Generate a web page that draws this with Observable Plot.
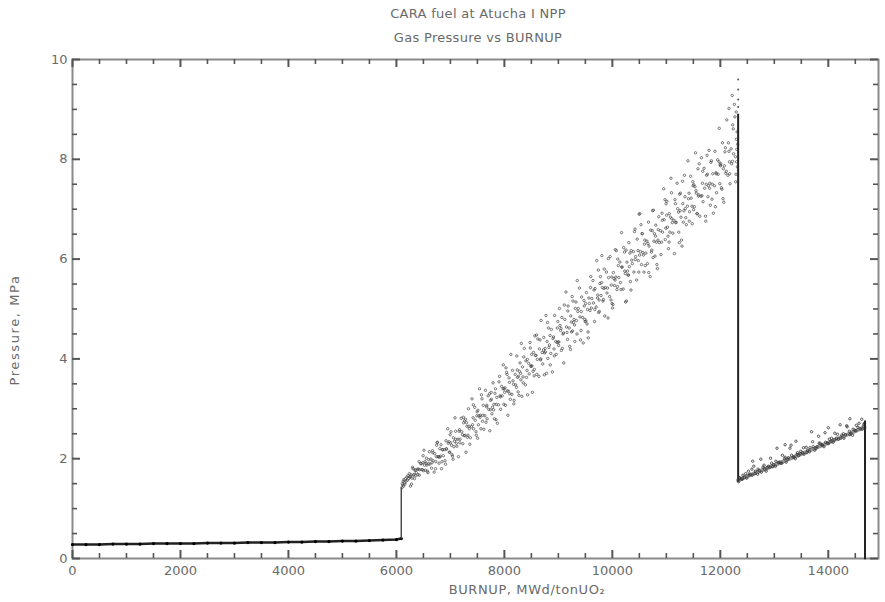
<!DOCTYPE html>
<html><head><meta charset="utf-8">
<script src="https://cdn.jsdelivr.net/npm/d3@7"></script>
<script src="https://cdn.jsdelivr.net/npm/@observablehq/plot@0.6"></script>
<style>
body{margin:0;background:#fff;}
#wrap{position:relative;width:885px;height:602px;font-family:"DejaVu Sans",sans-serif;color:#6a6a6a;}
.t{position:absolute;left:0;width:956px;text-align:center;font-size:13px;line-height:16px;letter-spacing:0.3px;}
#ylab{position:absolute;left:14px;top:330px;transform:translate(-50%,-50%) rotate(-90deg);font-size:13px;white-space:nowrap;letter-spacing:1.6px;}
#xlab{position:absolute;left:527px;top:582px;transform:translateX(-50%);font-size:13px;white-space:nowrap;letter-spacing:0.6px;}
#chart{position:absolute;left:0;top:0;}
</style></head><body>
<div id="wrap">
<div id="chart"></div>
<div class="t" style="top:6px">CARA fuel at Atucha I NPP</div>
<div class="t" style="top:30px">Gas Pressure vs BURNUP</div>
<div id="ylab">Pressure, MPa</div>
<div id="xlab">BURNUP, MWd/tonUO₂</div>
</div>
<script>
const xTicks = [0,2000,4000,6000,8000,10000,12000,14000];
const yTicks = [0,2,4,6,8,10];
const xMinor = [500,1000,1500,2500,3000,3500,4500,5000,5500,6500,7000,7500,8500,9000,9500,10500,11000,11500,12500,13000,13500,14500];
const yMinor = [0.5,1,1.5,2.5,3,3.5,4.5,5,5.5,6.5,7,7.5,8.5,9,9.5];

const baseBurnup = [0,250,500,750,1000,1250,1500,1750,2000,2250,2500,2750,3000,3250,3500,3750,4000,4250,4500,4750,5000,5250,5500,5750,6000,6090];
const basePressure = [0.28,0.28,0.28,0.29,0.29,0.29,0.30,0.30,0.30,0.30,0.31,0.31,0.31,0.32,0.32,0.32,0.33,0.33,0.34,0.34,0.35,0.35,0.36,0.37,0.38,0.40];

const jump1 = [[6090,0.40],[6090,1.42]];

const riseCloud = [
[6105,1.42],[6110,1.50],[6118,1.47],[6125,1.55],[6132,1.45],[6140,1.58],[6150,1.52],[6160,1.49],[6170,1.60],[6180,1.55],[6192,1.63],[6205,1.57],[6215,1.66],[6228,1.60],[6240,1.70],[6248,1.63],
[6260,1.45],[6450,1.90],[6335,1.60],[6400,1.68],[6290,1.61],[6480,1.78],[6370,1.72],[6315,1.67],[6430,1.78],[6270,1.68],[6390,1.79],[6350,1.78],[6460,1.90],[6305,1.80],[6420,1.94],[6495,2.06],
[6700,1.73],[6585,1.72],[6650,1.81],[6540,1.77],[6730,1.94],[6620,1.89],[6565,1.87],[6680,1.96],[6520,1.87],[6640,1.99],[6600,1.98],[6710,2.10],[6555,2.01],[6670,2.16],[6745,2.27],[6510,2.17],
[6835,1.80],[6900,1.96],[6790,1.91],[6980,2.13],[6870,2.06],[6815,2.05],[6930,2.19],[6770,2.04],[6890,2.18],[6850,2.18],[6960,2.31],[6805,2.20],[6920,2.36],[6995,2.48],[6760,2.33],[6950,2.60],
[7150,2.04],[7040,2.05],[7230,2.30],[7120,2.25],[7065,2.24],[7180,2.39],[7020,2.27],[7140,2.39],[7100,2.39],[7210,2.54],[7055,2.42],[7170,2.58],[7245,2.72],[7010,2.54],[7200,2.81],[7085,2.82],
[7290,2.13],[7480,2.47],[7370,2.42],[7315,2.43],[7430,2.60],[7270,2.47],[7390,2.64],[7350,2.60],[7460,2.77],[7305,2.65],[7420,2.82],[7495,2.94],[7260,2.76],[7450,3.03],[7335,3.00],[7400,3.20],
[7730,2.56],[7620,2.59],[7565,2.60],[7680,2.80],[7520,2.68],[7640,2.86],[7600,2.87],[7710,2.99],[7555,2.87],[7670,3.04],[7745,3.17],[7510,2.97],[7700,3.26],[7585,3.20],[7650,3.37],[7540,3.40],
[7870,2.71],[7815,2.80],[7930,2.99],[7770,2.90],[7890,3.08],[7850,3.09],[7960,3.26],[7805,3.09],[7920,3.26],[7995,3.40],[7760,3.19],[7950,3.45],[7835,3.40],[7900,3.54],[7790,3.52],[7980,3.88],
[8065,2.87],[8180,3.17],[8020,3.07],[8140,3.29],[8100,3.30],[8210,3.48],[8055,3.36],[8170,3.49],[8245,3.63],[8010,3.42],[8200,3.69],[8085,3.62],[8150,3.77],[8040,3.73],[8230,4.06],[8120,4.09],
[8430,3.28],[8270,3.27],[8390,3.48],[8350,3.52],[8460,3.70],[8305,3.58],[8420,3.77],[8495,3.85],[8260,3.65],[8450,3.91],[8335,3.84],[8400,3.96],[8290,3.92],[8480,4.22],[8370,4.21],[8315,4.31],
[8520,3.33],[8640,3.65],[8600,3.69],[8710,3.90],[8555,3.79],[8670,3.98],[8745,4.12],[8510,3.86],[8700,4.13],[8585,4.07],[8650,4.20],[8540,4.13],[8730,4.43],[8620,4.40],[8565,4.46],[8680,4.77],
[8890,3.74],[8850,3.88],[8960,4.09],[8805,4.01],[8920,4.20],[8995,4.34],[8760,4.14],[8950,4.35],[8835,4.28],[8900,4.41],[8790,4.35],[8980,4.62],[8870,4.59],[8815,4.62],[8930,4.87],[8770,4.87],
[9100,3.92],[9210,4.25],[9055,4.17],[9170,4.39],[9245,4.54],[9010,4.34],[9200,4.62],[9085,4.50],[9150,4.64],[9040,4.57],[9230,4.86],[9120,4.79],[9065,4.83],[9180,5.06],[9020,5.01],[9140,5.34],
[9460,4.32],[9305,4.35],[9420,4.57],[9495,4.75],[9260,4.56],[9450,4.83],[9335,4.77],[9400,4.84],[9290,4.79],[9480,5.06],[9370,5.01],[9315,5.01],[9430,5.24],[9270,5.16],[9390,5.42],[9350,5.57],
[9555,4.42],[9670,4.75],[9745,4.93],[9510,4.76],[9700,5.04],[9585,4.97],[9650,5.12],[9540,4.99],[9730,5.28],[9620,5.21],[9565,5.22],[9680,5.41],[9520,5.33],[9640,5.57],[9600,5.65],[9710,5.97],
[9920,4.82],[9995,5.11],[9760,4.95],[9950,5.25],[9835,5.19],[9900,5.32],[9790,5.27],[9980,5.48],[9870,5.43],[9815,5.43],[9930,5.63],[9770,5.51],[9890,5.74],[9850,5.80],[9960,6.05],[9805,6.07],
[10245,5.14],[10010,5.09],[10200,5.40],[10085,5.39],[10150,5.53],[10040,5.47],[10230,5.76],[10120,5.63],[10065,5.64],[10180,5.84],[10020,5.73],[10140,5.94],[10100,6.00],[10210,6.23],[10055,6.19],[10170,6.53],
[10260,5.16],[10450,5.58],[10335,5.55],[10400,5.74],[10290,5.68],[10480,5.97],[10370,5.91],[10315,5.85],[10430,6.05],[10270,5.94],[10390,6.15],[10350,6.17],[10460,6.40],[10305,6.33],[10420,6.60],[10495,6.90],
[10700,5.65],[10585,5.74],[10650,5.91],[10540,5.89],[10730,6.18],[10620,6.12],[10565,6.13],[10680,6.26],[10520,6.15],[10640,6.36],[10600,6.38],[10710,6.58],[10555,6.51],[10670,6.74],[10745,6.97],[10510,6.91],
[10835,5.81],[10900,6.09],[10790,6.06],[10980,6.39],[10870,6.33],[10815,6.34],[10930,6.54],[10770,6.36],[10890,6.57],[10850,6.59],[10960,6.79],[10805,6.68],[10920,6.92],[10995,7.11],[10760,6.98],[10950,7.41],
[11150,6.11],[11040,6.21],[11230,6.54],[11120,6.52],[11065,6.54],[11180,6.74],[11020,6.64],[11140,6.78],[11100,6.81],[11210,7.01],[11055,6.91],[11170,7.11],[11245,7.30],[11010,7.16],[11200,7.52],[11085,7.62],
[11290,6.26],[11480,6.71],[11370,6.69],[11315,6.74],[11430,6.95],[11270,6.84],[11390,7.06],[11350,7.01],[11460,7.22],[11305,7.11],[11420,7.32],[11495,7.47],[11260,7.32],[11450,7.66],[11335,7.68],[11400,7.97],
[11730,6.76],[11620,6.86],[11565,6.91],[11680,7.15],[11520,7.05],[11640,7.26],[11600,7.29],[11710,7.42],[11555,7.32],[11670,7.52],[11745,7.68],[11510,7.49],[11700,7.82],[11585,7.81],[11650,8.03],[11540,8.13],
[11870,6.92],[11815,7.08],[11930,7.33],[11770,7.25],[11890,7.47],[11850,7.50],[11960,7.70],[11805,7.52],[11920,7.73],[11995,7.89],[11760,7.70],[11950,7.99],[11835,7.97],[11900,8.16],[11790,8.18],[11980,8.62],
[12065,7.14],[12180,7.51],[12020,7.43],[12140,7.68],[12100,7.72],[12210,7.91],[12055,7.81],[12170,7.95],[12245,8.11],[12010,7.91],[12200,8.21],[12085,8.15],[12150,8.33],[12040,8.33],[12230,8.69],[12120,8.79],
[12280,8.05],[12300,8.40],[12290,7.70],[12310,8.55],[12270,8.85],[12300,7.95],[12220,9.28],[12160,9.02],[12260,9.10],
[6280,1.49],[6425,1.67],[6360,1.66],[6475,1.78],[6325,1.68],[6255,1.64],[6410,1.79],[6345,1.76],[6490,1.92],[6300,1.83],
[6725,1.80],[6575,1.75],[6505,1.76],[6660,1.92],[6595,1.90],[6740,2.04],[6550,1.91],[6530,1.94],[6675,2.12],[6610,2.14],
[6910,1.89],[6845,1.94],[6990,2.13],[6800,2.03],[6780,2.04],[6925,2.20],[6860,2.18],[6975,2.34],[6825,2.28],[6755,2.32],
[7050,1.99],[7030,2.08],[7175,2.32],[7110,2.31],[7225,2.48],[7075,2.35],[7005,2.32],[7160,2.55],[7095,2.55],[7240,2.83],
[7360,2.29],[7475,2.54],[7325,2.47],[7255,2.46],[7410,2.68],[7345,2.65],[7490,2.86],[7300,2.72],[7280,2.79],[7425,3.08],
[7505,2.41],[7660,2.73],[7595,2.75],[7740,2.98],[7550,2.83],[7530,2.86],[7675,3.07],[7610,3.07],[7725,3.30],[7575,3.28],
[7845,2.78],[7990,3.09],[7800,2.98],[7780,3.03],[7925,3.24],[7860,3.23],[7975,3.40],[7825,3.31],[7755,3.33],[7910,3.65],
[8175,3.10],[8110,3.19],[8225,3.43],[8075,3.35],[8005,3.33],[8160,3.56],[8095,3.53],[8240,3.78],[8050,3.69],[8030,3.82],
[8325,3.25],[8255,3.34],[8410,3.63],[8345,3.64],[8490,3.86],[8300,3.71],[8280,3.75],[8425,3.99],[8360,4.04],[8475,4.33],
[8740,3.68],[8550,3.66],[8530,3.75],[8675,4.00],[8610,3.99],[8725,4.18],[8575,4.07],[8505,4.09],[8660,4.38],[8595,4.48],
[8780,3.71],[8925,4.06],[8860,4.11],[8975,4.33],[8825,4.23],[8755,4.21],[8910,4.44],[8845,4.47],[8990,4.75],[8800,4.73],
[9225,4.19],[9075,4.21],[9005,4.27],[9160,4.53],[9095,4.52],[9240,4.74],[9050,4.61],[9030,4.67],[9175,4.96],[9110,5.08],
[9410,4.38],[9345,4.50],[9490,4.79],[9300,4.68],[9280,4.73],[9425,4.95],[9360,4.95],[9475,5.17],[9325,5.14],[9255,5.25],
[9550,4.54],[9530,4.70],[9675,4.99],[9610,5.02],[9725,5.22],[9575,5.11],[9505,5.11],[9660,5.38],[9595,5.43],[9740,5.78],
[9860,4.86],[9975,5.18],[9825,5.16],[9755,5.18],[9910,5.42],[9845,5.41],[9990,5.64],[9800,5.53],[9780,5.65],[9925,6.01],
[10005,5.02],[10160,5.39],[10095,5.45],[10240,5.71],[10050,5.58],[10030,5.61],[10175,5.84],[10110,5.87],[10225,6.14],[10075,6.17],
[10345,5.38],[10490,5.74],[10300,5.68],[10280,5.76],[10425,5.99],[10360,5.98],[10475,6.17],[10325,6.12],[10255,6.18],[10410,6.55],
[10675,5.73],[10610,5.87],[10725,6.14],[10575,6.08],[10505,6.08],[10660,6.31],[10595,6.30],[10740,6.57],[10550,6.51],[10530,6.69],
[10825,5.89],[10755,6.03],[10910,6.34],[10845,6.38],[10990,6.62],[10800,6.46],[10780,6.51],[10925,6.78],[10860,6.85],[10975,7.19],
[11240,6.33],[11050,6.34],[11030,6.46],[11175,6.73],[11110,6.73],[11225,6.94],[11075,6.84],[11005,6.88],[11160,7.19],[11095,7.33],
[11280,6.38],[11425,6.76],[11360,6.83],[11475,7.06],[11325,6.97],[11255,6.97],[11410,7.21],[11345,7.25],[11490,7.55],[11300,7.56],
[11725,6.86],[11575,6.91],[11505,6.99],[11660,7.27],[11595,7.26],[11740,7.50],[11550,7.37],[11530,7.45],[11675,7.76],[11610,7.91],
[11910,7.05],[11845,7.20],[11990,7.51],[11800,7.42],[11780,7.47],[11925,7.71],[11860,7.71],[11975,7.95],[11825,7.94],[11755,8.08],
[12050,7.21],[12030,7.40],[12175,7.71],[12110,7.76],[12225,7.96],[12075,7.87],[12005,7.87],[12160,8.16],[12095,8.23],[12240,8.61],
[12285,7.55],[12305,8.20],[12315,7.85],[12295,8.95],[12320,8.30]
];

const drop1 = [[12330,8.9],[12330,1.55]];
const drop1Top = [[12330,9.05],[12330,9.2],[12330,9.4],[12330,9.6]];

const secondBand = [[12330,1.57],[13000,1.87],[14000,2.32],[14670,2.63]];
const secondCloud = [
[12340,1.54],[12360,1.61],[12390,1.59],[12420,1.67],[12450,1.63],[12490,1.61],[12520,1.75],[12550,1.69],[12590,1.67],[12620,1.85],[12650,1.75],[12690,1.69],[12720,1.76],[12750,1.99],[12790,1.83],[12820,1.79],
[12850,1.75],[12890,1.85],[12920,1.83],[12950,1.91],[12990,1.88],[13020,1.85],[13050,2.21],[13090,1.93],[13120,1.91],[13150,2.07],[13190,2.00],[13220,1.93],[13250,1.99],[13290,2.21],[13320,2.07],[13350,2.03],
[13390,2.00],[13420,2.09],[13450,2.06],[13490,2.15],[13520,2.12],[13550,2.09],[13590,2.23],[13620,2.17],[13650,2.14],[13690,2.54],[13720,2.24],[13750,2.17],[13790,2.24],[13820,2.45],[13850,2.31],[13890,2.27],
[13920,2.24],[13950,2.33],[13990,2.31],[14020,2.39],[14050,2.35],[14090,2.33],[14120,2.51],[14150,2.41],[14190,2.39],[14220,2.68],[14250,2.47],[14290,2.41],[14320,2.48],[14350,2.64],[14390,2.55],[14420,2.51],
[14450,2.47],[14490,2.57],[14520,2.67],[14550,2.63],[14590,2.60],[14620,2.79],[14650,2.65],[14670,2.71],
[12600,1.95],[13200,2.28],[13400,2.35],[14000,2.62],[14400,2.80],
[12355,1.62],[12410,1.59],[12470,1.70],[12530,1.67],[12585,1.79],[12640,1.70],[12700,1.79],[12760,1.73],[12810,1.87],[12870,1.82],
[12930,2.01],[12970,1.84],[13030,1.95],[13080,1.92],[13140,1.91],[13200,2.03],[13260,2.02],[13310,2.27],[13370,2.03],[13430,2.12],
[13480,2.10],[13540,2.22],[13600,2.12],[13660,2.22],[13710,2.34],[13770,2.21],[13830,2.31],[13880,2.28],[13940,2.52],[14000,2.30],
[14060,2.41],[14110,2.38],[14170,2.49],[14230,2.41],[14280,2.50],[14340,2.66],[14400,2.48],[14460,2.59],[14510,2.56],[14570,2.71],
[14630,2.59],[14660,2.69]
];

const drop2 = [[14680,2.75],[14680,0]];

const base = baseBurnup.map((b, i) => [b, basePressure[i]]);
const X = d => d[0], Y = d => d[1];
const grey = "#8a8a8a";
const tickColor = "#555";

const W = 885, H = 602, mL = 72, mR = 7, mT = 59, mB = 44;
const xMax = 14930, yMax = 10;
// tick lengths (pixels) converted to scale units
const pxX = xMax / (W - mL - mR), pxY = yMax / (H - mT - mB);
const majLen = 8, minLen = 5;

const chart = Plot.plot({
  width: W, height: H,
  marginLeft: mL, marginRight: mR, marginTop: mT, marginBottom: mB,
  style: {background: "transparent", fontFamily: "DejaVu Sans, sans-serif", fontSize: "13px", color: "#6a6a6a"},
  x: {domain: [0, xMax], axis: null},
  y: {domain: [0, yMax], axis: null},
  marks: [
    Plot.frame({stroke: grey, strokeWidth: 2}),
    Plot.ruleX(xTicks, {x: d => d, y1: 0, y2: majLen * pxY, stroke: tickColor, strokeWidth: 2}),
    Plot.ruleX(xMinor, {x: d => d, y1: 0, y2: minLen * pxY, stroke: tickColor, strokeWidth: 1.6}),
    Plot.ruleX(xTicks, {x: d => d, y1: yMax, y2: yMax - majLen * pxY, stroke: tickColor, strokeWidth: 2}),
    Plot.ruleX(xMinor, {x: d => d, y1: yMax, y2: yMax - minLen * pxY, stroke: tickColor, strokeWidth: 1.6}),
    Plot.ruleY(yTicks, {y: d => d, x1: 0, x2: majLen * pxX, stroke: tickColor, strokeWidth: 2}),
    Plot.ruleY(yMinor, {y: d => d, x1: 0, x2: minLen * pxX, stroke: tickColor, strokeWidth: 1.6}),
    Plot.ruleY(yTicks, {y: d => d, x1: xMax, x2: xMax - majLen * pxX, stroke: tickColor, strokeWidth: 2}),
    Plot.ruleY(yMinor, {y: d => d, x1: xMax, x2: xMax - minLen * pxX, stroke: tickColor, strokeWidth: 1.6}),
    Plot.axisX(xTicks, {anchor: "bottom", tickSize: 0, tickPadding: 7, tickFormat: d => `${d}`, fill: "#6a6a6a"}),
    Plot.axisY(yTicks, {anchor: "left", tickSize: 0, tickPadding: 5, tickFormat: d => `${d}`, fill: "#6a6a6a"}),
    Plot.line(base, {x: X, y: Y, stroke: "#222", strokeWidth: 2.4}),
    Plot.dot(base, {x: X, y: Y, r: 1.6, fill: "#000"}),
    Plot.line(jump1, {x: X, y: Y, stroke: "#444", strokeWidth: 1.4}),
    Plot.dot(riseCloud, {x: X, y: Y, r: 1.2, stroke: "#444", strokeWidth: 0.7, fill: "none"}),
    Plot.line(drop1, {x: X, y: Y, stroke: "#222", strokeWidth: 2}),
    Plot.dot(drop1Top, {x: X, y: Y, r: 1, fill: "#555"}),
    Plot.line(secondBand, {x: X, y: Y, stroke: "#444", strokeWidth: 4, strokeOpacity: 0.55}),
    Plot.dot(secondCloud, {x: X, y: Y, r: 1.2, stroke: "#333", strokeWidth: 0.8, fill: "none"}),
    Plot.line(drop2, {x: X, y: Y, stroke: "#222", strokeWidth: 2})
  ]
});

document.getElementById("chart").appendChild(chart);
</script>
</body></html>
